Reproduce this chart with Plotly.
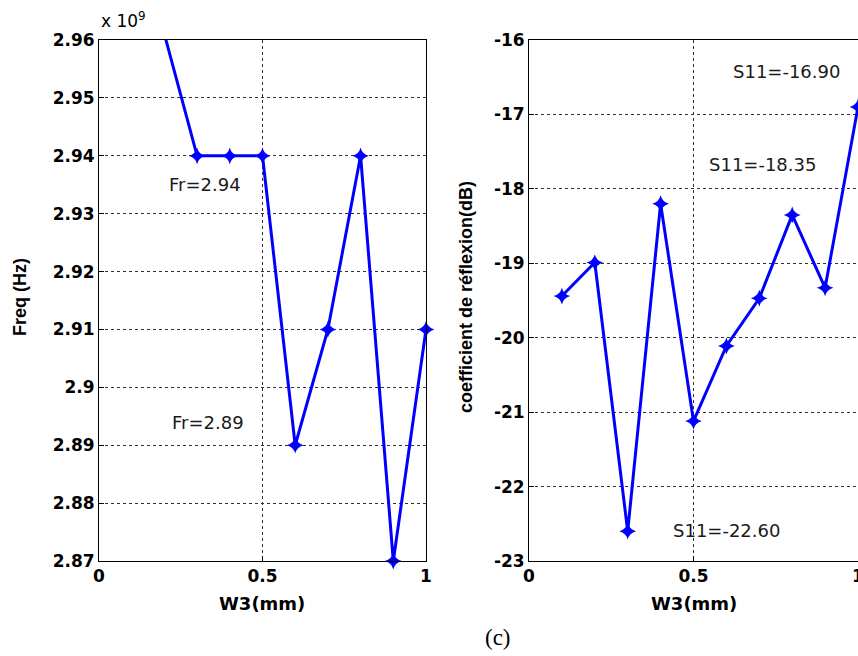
import plotly.graph_objects as go

# ---- data ----
w3_freq = [0.2, 0.3, 0.4, 0.5, 0.6, 0.7, 0.8, 0.9, 1.0]
freq_hz = [2.961e9, 2.94e9, 2.94e9, 2.94e9, 2.89e9, 2.91e9, 2.94e9, 2.87e9, 2.91e9]

w3_s11 = [0.1, 0.2, 0.3, 0.4, 0.5, 0.6, 0.7, 0.8, 0.9, 1.0]
s11_db = [-19.44, -18.99, -22.60, -18.20, -21.12, -20.11, -19.47, -18.35, -19.33, -16.90]

freq_ticks = [2.87, 2.88, 2.89, 2.90, 2.91, 2.92, 2.93, 2.94, 2.95, 2.96]
freq_ticktext = ["2.87", "2.88", "2.89", "2.9", "2.91", "2.92", "2.93", "2.94", "2.95", "2.96"]
s11_ticks = [-23, -22, -21, -20, -19, -18, -17, -16]
s11_ticktext = ["-23", "-22", "-21", "-20", "-19", "-18", "-17", "-16"]
x_ticks = [0, 0.5, 1]
x_ticktext = ["0", "0.5", "1"]

FREQ_MAX = 2.96

W, H = 858, 656
def px(x):
    return x / W
def py(y):
    return 1 - y / H

BLUE = "#0000FF"
BOLD = "DejaVu Sans"
AX_FONT = dict(family=BOLD, size=17, color="black", weight="bold")

fig = go.Figure()
freq_ghz = [v / 1e9 for v in freq_hz]
# line (clipped to the axes)
fig.add_trace(go.Scatter(
    x=w3_freq, y=freq_ghz, mode="lines",
    line=dict(color=BLUE, width=3),
    xaxis="x", yaxis="y", showlegend=False))
# markers for in-range points (not clipped at the frame)
mx = [x for x, y in zip(w3_freq, freq_ghz) if y <= FREQ_MAX]
my = [y for y in freq_ghz if y <= FREQ_MAX]
fig.add_trace(go.Scatter(
    x=mx, y=my, mode="markers", cliponaxis=False,
    marker=dict(symbol="star-diamond", size=12, color=BLUE),
    xaxis="x", yaxis="y", showlegend=False))

fig.add_trace(go.Scatter(
    x=w3_s11, y=s11_db, mode="lines+markers", cliponaxis=False,
    line=dict(color=BLUE, width=3),
    marker=dict(symbol="star-diamond", size=12, color=BLUE),
    xaxis="x2", yaxis="y2", showlegend=False))

common_axis = dict(
    showline=True, linecolor="black", linewidth=1, mirror=True,
    ticks="inside", ticklen=5, tickcolor="black",
    showgrid=True, gridcolor="#333", gridwidth=1, griddash="3px,3px",
    zeroline=False, tickfont=AX_FONT, automargin=False,
    ticklabeloverflow="allow",
)

ydom = [py(561), py(40)]
fig.update_layout(
    width=W, height=H,
    margin=dict(l=0, r=0, t=0, b=0, pad=0),
    paper_bgcolor="white", plot_bgcolor="white",
    xaxis=dict(domain=[px(99), px(426)], range=[0, 1], tickvals=x_ticks,
               ticktext=x_ticktext, anchor="y", **common_axis),
    yaxis=dict(domain=ydom, range=[2.87, FREQ_MAX], tickvals=freq_ticks,
               ticktext=freq_ticktext, anchor="x", **common_axis),
    xaxis2=dict(domain=[px(529), 1.0], range=[0, 1], tickvals=x_ticks,
                ticktext=x_ticktext, anchor="y2", **common_axis),
    yaxis2=dict(domain=ydom, range=[-23, -16], tickvals=s11_ticks,
                ticktext=s11_ticktext, anchor="x2", **common_axis),
)

ann_font = dict(family="DejaVu Sans", size=18, color="#1a1a1a")
anns = [
    # data labels
    dict(x=px(205), y=py(185), text="Fr=2.94", font=ann_font),
    dict(x=px(208), y=py(422), text="Fr=2.89", font=ann_font),
    dict(x=px(786), y=py(72), text="S11=-16.90", font=ann_font),
    dict(x=px(762), y=py(165), text="S11=-18.35", font=ann_font),
    dict(x=px(726), y=py(530), text="S11=-22.60", font=ann_font),
    # axis titles
    dict(x=px(262), y=py(603), text="<b>W3(mm)</b>",
         font=dict(family=BOLD, size=18, color="black")),
    dict(x=px(694), y=py(603), text="<b>W3(mm)</b>",
         font=dict(family=BOLD, size=18, color="black")),
    dict(x=px(20), y=py(297), text="<b>Freq (Hz)</b>", textangle=-90,
         font=dict(family="Liberation Sans", size=18, color="black")),
    dict(x=px(466), y=py(297), text="<b>coefficient de réflexion(dB)</b>", textangle=-90,
         font=dict(family="Liberation Sans", size=18, color="black")),
    # exponent
    dict(x=px(99), y=py(20), xanchor="left", text="x 10<sup>9</sup>",
         font=dict(family="DejaVu Sans", size=17, color="black")),
    # caption
    dict(x=px(498), y=py(637), text="(c)",
         font=dict(family="Liberation Serif", size=23, color="black")),
]
for a in anns:
    a.setdefault("xanchor", "center")
    a.update(xref="paper", yref="paper", showarrow=False, yanchor="middle")
fig.update_layout(annotations=anns)

fig.write_html("out.html")
